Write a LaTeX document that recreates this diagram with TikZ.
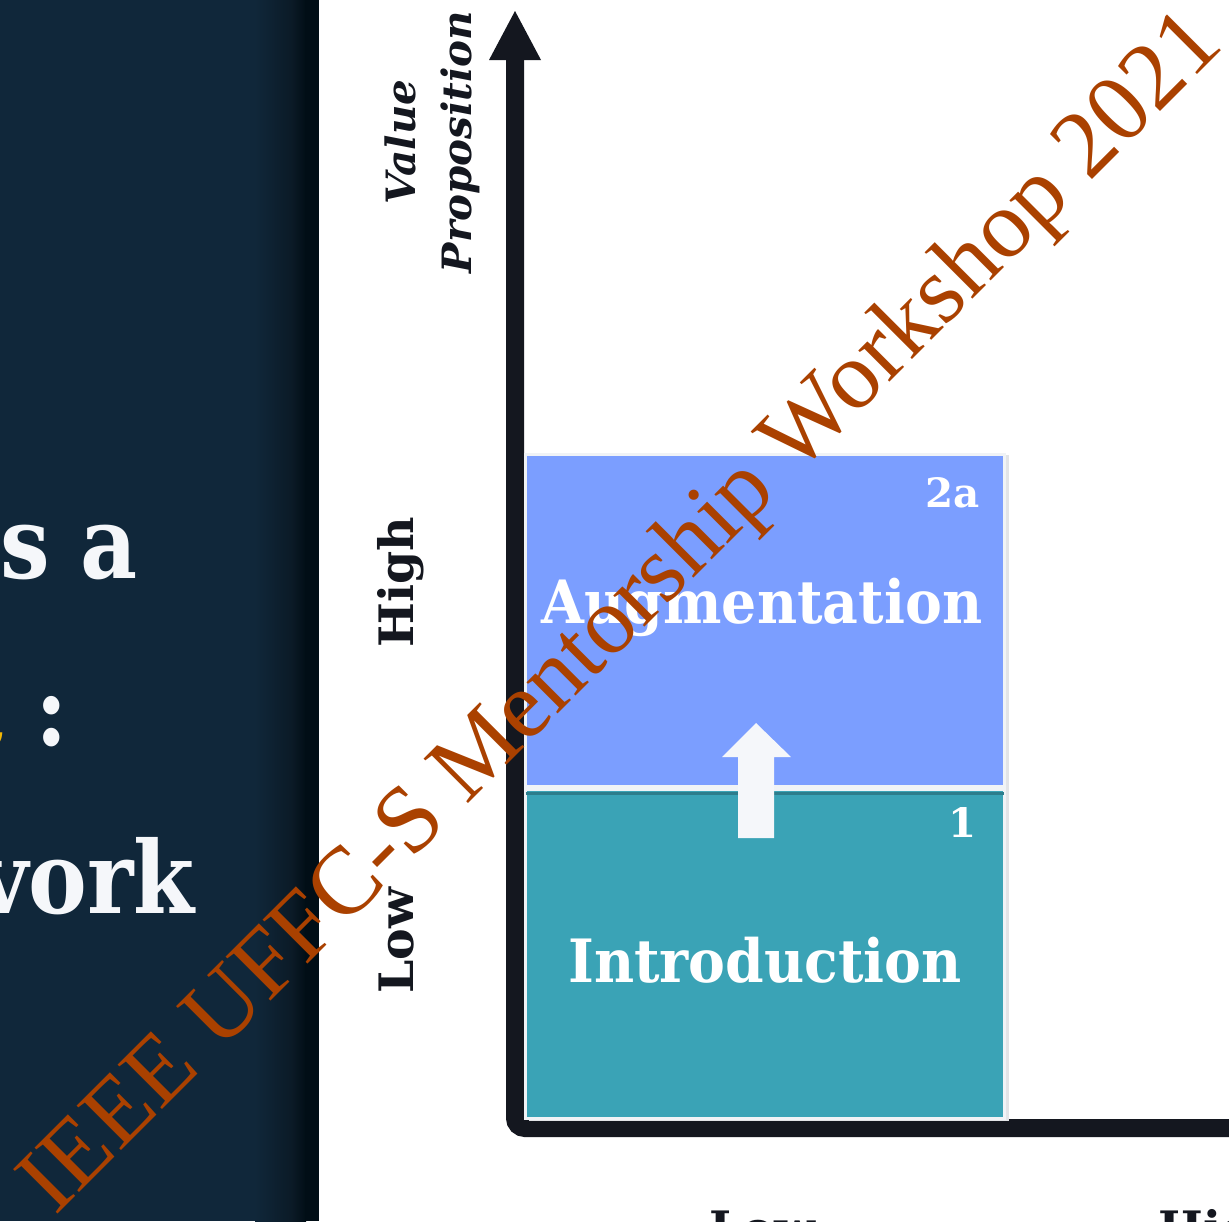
\documentclass[tikz,border=0pt]{standalone}
\usepackage{fontspec}
\newfontfamily\slab{DejaVu Serif}
\newfontfamily\slabnarrow{DejaVu Serif}[FakeStretch=0.925]
\newfontfamily\slabpanel{DejaVu Serif}[FakeStretch=0.88]
\newfontfamily\wmfont{Liberation Serif}
\definecolor{panel}{RGB}{16,39,58}
\definecolor{panelmid}{RGB}{11,26,38}
\definecolor{paneldark}{RGB}{1,14,22}
\definecolor{axiscol}{RGB}{20,23,31}
\definecolor{augblue}{RGB}{123,158,255}
\definecolor{introteal}{RGB}{58,163,182}
\definecolor{darkteal}{RGB}{45,125,140}
\definecolor{offwhite}{RGB}{245,247,250}
\definecolor{edgecol}{RGB}{240,243,246}
\definecolor{shadowcol}{RGB}{226,228,231}
\definecolor{wmcol}{RGB}{170,65,0}
\definecolor{gold}{RGB}{242,183,5}
\tikzset{
  paneltext/.style={font=\slabpanel\bfseries\fontsize{57}{64}\selectfont, text=offwhite, inner sep=0, anchor=base east},
  axislabel/.style={font=\slab\bfseries\fontsize{27}{32}\selectfont, text=axiscol, inner sep=0},
  titlelabel/.style={font=\slab\bfseries\itshape\fontsize{23}{31.7}\selectfont, text=axiscol, inner sep=0, align=center},
  stagebox/.style={draw=edgecol, line width=1.7pt, inner sep=0, outer sep=0, minimum width=9.58cm},
  stagename/.style={font=\slabnarrow\bfseries\fontsize{34}{40}\selectfont, text=white, inner sep=0, anchor=base},
  stagenum/.style={font=\slab\bfseries\fontsize{23}{28}\selectfont, text=white, inner sep=0, anchor=base east},
  axisline/.style={draw=axiscol, line width=0.36cm, rounded corners=0.2cm},
  watermark/.style={font=\wmfont\fontsize{54.6}{60}\selectfont, text=wmcol, inner sep=0, anchor=base west, rotate=45}
}
\begin{document}
\begin{tikzpicture}[x=0.02cm,y=0.02cm]
\useasboundingbox (0,0) rectangle (1229,-1221);
\fill[white] (0,0) rectangle (1229,-1221);
% left panel
\fill[panel] (0,0) rectangle (256,-1221);
\shade[left color=panel, right color=panelmid] (255,0) rectangle (293,-1221);
\shade[left color=panelmid, right color=paneldark] (292,0) rectangle (306,-1221);
\fill[paneldark] (305,0) rectangle (319,-1221);
\begin{scope}
\clip (0,0) rectangle (319,-1221);
\node[paneltext] (tsa) at (138,-578) {s a};
\node[paneltext, text=gold] (tgold) at (4,-745) {t};
\node[paneltext] (tcolon) at (68,-745) {:};
\node[paneltext] (twork) at (195,-913) {vork};
\end{scope}
% axes
\coordinate (ytop) at (515,-60);
\coordinate (ytip) at (515,-11);
\coordinate (origin) at (515,-1128);
\coordinate (xend) at (1240,-1128);
\draw[axisline] (ytop) -- (origin) -- (xend);
\fill[axiscol] (ytop) ++(-26,0) -- ++(52,0) -- (ytip) -- cycle;
% boxes
\fill[shadowcol] (529,-455) rectangle (1009,-1121);
\node[stagebox, fill=augblue, minimum height=6.64cm] (aug) at (765,-620.5) {};
\node[stagebox, fill=introteal, minimum height=6.58cm] (intro) at (765,-954) {};
\draw[darkteal, line width=1.7pt] ([yshift=-0.07cm]intro.north west) -- ([yshift=-0.07cm]intro.north east);
\draw[edgecol, line width=1.7pt] (aug.south west) -- (aug.south east);
% up arrow
\fill[offwhite] (738,-838) -- (738,-757) -- (722,-757) -- (756,-723) -- (791,-757) -- (774,-757) -- (774,-838) -- cycle;
% texts
\node[stagename] (augtxt) at (762,-623) {Augmentation};
\node[stagename] (introtxt) at (765,-982) {Introduction};
\node[stagenum] (n2a) at (980,-507) {2a};
\node[stagenum] (n1) at (977,-837) {1};
\node[axislabel, rotate=90, anchor=base] (yhigh) at (413,-582) {High};
\node[axislabel, rotate=90, anchor=base] (ylow) at (413,-941) {Low};
\node[titlelabel, rotate=90] (ytitle) at (432,-142) {Value\\Proposition};
\node[axislabel, anchor=base] (xlow) at (762,-1245) {Low};
\node[axislabel, anchor=base west] (xhigh) at (1158,-1245) {High};
% watermark
\node[watermark] (wm) at (55,-1217) {IEEE UFFC-S Mentorship Workshop 2021};
\end{tikzpicture}
\end{document}
